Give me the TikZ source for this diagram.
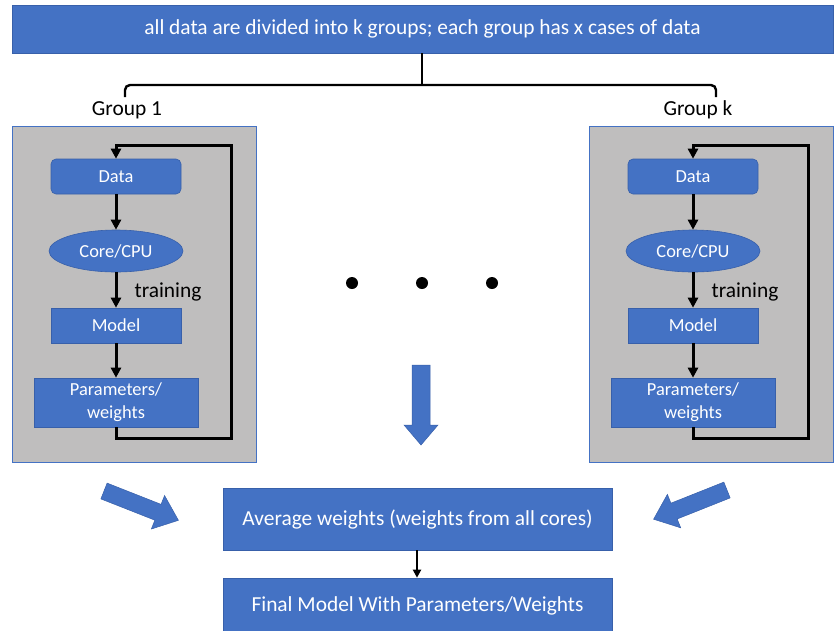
\documentclass[tikz,border=0pt]{standalone}
\usepackage{fontspec}
\setmainfont{Carlito}
\usetikzlibrary{arrows.meta,shapes.geometric}
\definecolor{obl}{RGB}{68,114,196}
\definecolor{obd}{RGB}{56,96,170}
\definecolor{gboxc}{RGB}{191,190,190}
\begin{document}
\begin{tikzpicture}[x=1pt,y=-1pt,
  bluebox/.style={rectangle, fill=obl, draw=obd, line width=0.6pt, text=white, inner sep=0pt, align=center},
  roundbox/.style={bluebox, rounded corners=5pt},
  oval/.style={ellipse, fill=obl, draw=obd, line width=0.6pt, inner sep=0pt},
  whitetext/.style={text=white, inner sep=0pt},
  grayarea/.style={rectangle, fill=gboxc, draw=obl, line width=0.8pt, inner sep=0pt},
  flow/.style={line width=3pt, -{Triangle[length=10pt,width=10pt]}},
  blockarrow/.style={fill=obl, draw=obd, line width=0.5pt},
  lbl/.style={text=black, inner sep=0pt},
  bigfont/.style={font=\fontsize{21.4}{24}\selectfont},
  smallfont/.style={font=\fontsize{18.4}{22}\selectfont}
]
\useasboundingbox (0,0) rectangle (834,630);

% top bar
\node[bluebox, bigfont, minimum width=821pt, minimum height=48pt] (top) at (422.5,29) {all data are divided into k groups; each group has x cases of data};

% bracket
\coordinate (brL) at (125,97);
\coordinate (brR) at (716,97);
\coordinate (brM) at (422,85);
\draw[line width=2.4pt] (top.south -| brM) -- (brM);
\draw[line width=2.4pt, rounded corners=5pt] (brL) -- (125,85) -- (716,85) -- (brR);

\node[lbl, bigfont] (gl1) at (127,110) {Group 1};
\node[lbl, bigfont] (glk) at (698,110) {Group k};

% gray areas
\node[grayarea, minimum width=244pt, minimum height=336pt] (g1) at (134,294) {};
\node[grayarea, minimum width=244pt, minimum height=336pt] (gk) at (711,294) {};

% group 1
\begin{scope}[smallfont]
\node[roundbox, minimum width=130pt, minimum height=35pt] (d1) at (116,176.5) {Data};
\node[oval, minimum width=134pt, minimum height=42pt] (c1) at (116,251) {};
\node[whitetext] (c1t) at (c1.center) {Core/CPU};
\node[bluebox, minimum width=130pt, minimum height=35pt] (m1) at (116,325.5) {Model};
\node[bluebox, minimum width=164pt, minimum height=49pt, font=\fontsize{18.4}{23}\selectfont] (p1) at (116,402.5) {Parameters/\\weights};
\node[lbl, bigfont] (t1) at (168,292) {training};
\coordinate (l1) at (231,145);
\draw[flow] (d1.south) -- (c1.north);
\draw[flow] (c1.south) -- (m1.north);
\draw[flow] (m1.south) -- (p1.north);
\draw[flow] (p1.south) -- ++(0,11) -| (l1) -| (d1.north);

% group k
\node[roundbox, minimum width=130pt, minimum height=35pt] (dk) at (693,176.5) {Data};
\node[oval, minimum width=134pt, minimum height=42pt] (ck) at (693,251) {};
\node[whitetext] (ckt) at (ck.center) {Core/CPU};
\node[bluebox, minimum width=130pt, minimum height=35pt] (mk) at (693,325.5) {Model};
\node[bluebox, minimum width=164pt, minimum height=49pt, font=\fontsize{18.4}{23}\selectfont] (pk) at (693,402.5) {Parameters/\\weights};
\node[lbl, bigfont] (tk) at (745,292) {training};
\coordinate (lk) at (808,145);
\draw[flow] (dk.south) -- (ck.north);
\draw[flow] (ck.south) -- (mk.north);
\draw[flow] (mk.south) -- (pk.north);
\draw[flow] (pk.south) -- ++(0,11) -| (lk) -| (dk.north);
\end{scope}

% dots
\fill (352,283) circle (6pt);
\fill (422,283) circle (6pt);
\fill (492,283) circle (6pt);

% big down arrow
\fill[blockarrow] (412,365) -- (430,365) -- (430,425) -- (438,425) -- (421,445) -- (404,425) -- (412,425) -- cycle;

% diagonal arrows
\begin{scope}[shift={(104,491)}, rotate=-21.5]
\fill[blockarrow] (0,-8.5) -- (58,-8.5) -- (58,-18) -- (80,0) -- (58,18) -- (58,8.5) -- (0,8.5) -- cycle;
\end{scope}
\begin{scope}[shift={(727,490)}, rotate=201.7]
\fill[blockarrow] (0,-8.5) -- (57,-8.5) -- (57,-18) -- (79,0) -- (57,18) -- (57,8.5) -- (0,8.5) -- cycle;
\end{scope}

% bottom boxes
\node[bluebox, bigfont, minimum width=389pt, minimum height=62pt] (avg) at (417.5,519) {Average weights (weights from all cores)};
\node[bluebox, bigfont, minimum width=389pt, minimum height=56pt] (fin) at (417.5,606) {Final Model With Parameters/Weights};
\coordinate (ax) at (417,0);
\draw[line width=2pt, -{Triangle[length=8pt,width=8pt]}] (avg.south -| ax) -- (fin.north -| ax);
\end{tikzpicture}
\end{document}
